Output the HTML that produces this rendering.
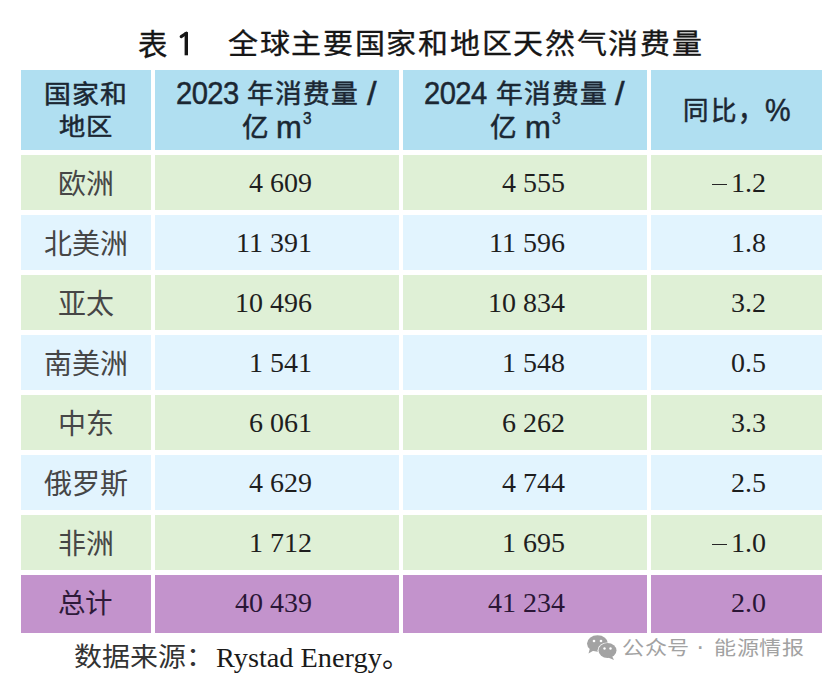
<!DOCTYPE html>
<html lang="zh-CN">
<head>
<meta charset="utf-8">
<style>
html,body{margin:0;padding:0;background:#fff;}
body{width:831px;height:680px;position:relative;overflow:hidden;font-family:"Liberation Sans",sans-serif;}
.c{position:absolute;}
.t{position:absolute;white-space:nowrap;line-height:1;transform-origin:0 0;}
.nm{position:absolute;white-space:nowrap;line-height:1;font-family:"Liberation Serif",serif;font-size:28px;color:#1e1e1e;}
.pp{color:#2a1636;}
</style>
</head>
<body>
<div class="c" style="left:21px;top:70px;width:130px;height:80px;background:#B0DFF1"></div>
<div class="c" style="left:155px;top:70px;width:244px;height:80px;background:#B0DFF1"></div>
<div class="c" style="left:403px;top:70px;width:244px;height:80px;background:#B0DFF1"></div>
<div class="c" style="left:651px;top:70px;width:171px;height:80px;background:#B0DFF1"></div>
<div class="c" style="left:21px;top:155px;width:130px;height:55px;background:#DFF0D6"></div>
<div class="c" style="left:155px;top:155px;width:244px;height:55px;background:#DFF0D6"></div>
<div class="c" style="left:403px;top:155px;width:244px;height:55px;background:#DFF0D6"></div>
<div class="c" style="left:651px;top:155px;width:171px;height:55px;background:#DFF0D6"></div>
<div class="c" style="left:21px;top:215px;width:130px;height:55px;background:#E2F4FE"></div>
<div class="c" style="left:155px;top:215px;width:244px;height:55px;background:#E2F4FE"></div>
<div class="c" style="left:403px;top:215px;width:244px;height:55px;background:#E2F4FE"></div>
<div class="c" style="left:651px;top:215px;width:171px;height:55px;background:#E2F4FE"></div>
<div class="c" style="left:21px;top:275px;width:130px;height:55px;background:#DFF0D6"></div>
<div class="c" style="left:155px;top:275px;width:244px;height:55px;background:#DFF0D6"></div>
<div class="c" style="left:403px;top:275px;width:244px;height:55px;background:#DFF0D6"></div>
<div class="c" style="left:651px;top:275px;width:171px;height:55px;background:#DFF0D6"></div>
<div class="c" style="left:21px;top:335px;width:130px;height:55px;background:#E2F4FE"></div>
<div class="c" style="left:155px;top:335px;width:244px;height:55px;background:#E2F4FE"></div>
<div class="c" style="left:403px;top:335px;width:244px;height:55px;background:#E2F4FE"></div>
<div class="c" style="left:651px;top:335px;width:171px;height:55px;background:#E2F4FE"></div>
<div class="c" style="left:21px;top:395px;width:130px;height:55px;background:#DFF0D6"></div>
<div class="c" style="left:155px;top:395px;width:244px;height:55px;background:#DFF0D6"></div>
<div class="c" style="left:403px;top:395px;width:244px;height:55px;background:#DFF0D6"></div>
<div class="c" style="left:651px;top:395px;width:171px;height:55px;background:#DFF0D6"></div>
<div class="c" style="left:21px;top:455px;width:130px;height:55px;background:#E2F4FE"></div>
<div class="c" style="left:155px;top:455px;width:244px;height:55px;background:#E2F4FE"></div>
<div class="c" style="left:403px;top:455px;width:244px;height:55px;background:#E2F4FE"></div>
<div class="c" style="left:651px;top:455px;width:171px;height:55px;background:#E2F4FE"></div>
<div class="c" style="left:21px;top:515px;width:130px;height:55px;background:#DFF0D6"></div>
<div class="c" style="left:155px;top:515px;width:244px;height:55px;background:#DFF0D6"></div>
<div class="c" style="left:403px;top:515px;width:244px;height:55px;background:#DFF0D6"></div>
<div class="c" style="left:651px;top:515px;width:171px;height:55px;background:#DFF0D6"></div>
<div class="c" style="left:21px;top:575px;width:130px;height:57.5px;background:#C393CC"></div>
<div class="c" style="left:155px;top:575px;width:244px;height:57.5px;background:#C393CC"></div>
<div class="c" style="left:403px;top:575px;width:244px;height:57.5px;background:#C393CC"></div>
<div class="c" style="left:651px;top:575px;width:171px;height:57.5px;background:#C393CC"></div>
<div class="c" style="left:712px;top:184px;width:15px;height:1.4px;background:#262626"></div>
<div class="nm" style="right:519px;top:169px">4 609</div>
<div class="nm" style="right:266px;top:169px">4 555</div>
<div class="nm" style="right:65px;top:169px">1.2</div>
<div class="nm" style="right:519px;top:229px">11 391</div>
<div class="nm" style="right:266px;top:229px">11 596</div>
<div class="nm" style="right:65px;top:229px">1.8</div>
<div class="nm" style="right:519px;top:289px">10 496</div>
<div class="nm" style="right:266px;top:289px">10 834</div>
<div class="nm" style="right:65px;top:289px">3.2</div>
<div class="nm" style="right:519px;top:349px">1 541</div>
<div class="nm" style="right:266px;top:349px">1 548</div>
<div class="nm" style="right:65px;top:349px">0.5</div>
<div class="nm" style="right:519px;top:409px">6 061</div>
<div class="nm" style="right:266px;top:409px">6 262</div>
<div class="nm" style="right:65px;top:409px">3.3</div>
<div class="nm" style="right:519px;top:469px">4 629</div>
<div class="nm" style="right:266px;top:469px">4 744</div>
<div class="nm" style="right:65px;top:469px">2.5</div>
<div class="c" style="left:712px;top:544px;width:15px;height:1.4px;background:#262626"></div>
<div class="nm" style="right:519px;top:529px">1 712</div>
<div class="nm" style="right:266px;top:529px">1 695</div>
<div class="nm" style="right:65px;top:529px">1.0</div>
<div class="nm pp" style="right:519px;top:589px">40 439</div>
<div class="nm pp" style="right:266px;top:589px">41 234</div>
<div class="nm pp" style="right:65px;top:589px">2.0</div>
<div class="t" style="left:138px;top:30px;transform:scale(0.979,1.0);font-family:'Liberation Sans',sans-serif;font-size:30px;color:#161616;letter-spacing:0px;-webkit-text-stroke:0.35px #161616;">表</div>
<div class="t" style="left:228px;top:31px;transform:scale(1.0,0.93);font-family:'Liberation Sans',sans-serif;font-size:30px;color:#161616;letter-spacing:1.7px;-webkit-text-stroke:0.35px #161616;">全球主要国家和地区天然气消费量</div>
<div class="t" style="left:44px;top:83px;transform:scale(0.997,0.919);font-family:'Liberation Sans',sans-serif;font-size:27px;color:#1b2733;letter-spacing:1.0px;-webkit-text-stroke:0.55px #1b2733;">国家和</div>
<div class="t" style="left:59px;top:115px;transform:scale(0.974,0.892);font-family:'Liberation Sans',sans-serif;font-size:27px;color:#1b2733;letter-spacing:1.0px;-webkit-text-stroke:0.55px #1b2733;">地区</div>
<div class="t" style="left:176px;top:78px;transform:scale(0.973,1.05);font-family:'Liberation Sans',sans-serif;font-size:30px;color:#1b2733;letter-spacing:-0.6px;-webkit-text-stroke:0.45px #1b2733;">2023</div>
<div class="t" style="left:247px;top:82px;transform:scale(0.991,0.963);font-family:'Liberation Sans',sans-serif;font-size:27px;color:#1b2733;letter-spacing:1.3px;-webkit-text-stroke:0.55px #1b2733;">年消费量</div>
<div class="t" style="left:367px;top:78px;transform:scale(1.15,1.082);font-family:'Liberation Sans',sans-serif;font-size:30px;color:#1b2733;letter-spacing:0px;-webkit-text-stroke:0.45px #1b2733;">/</div>
<div class="t" style="left:242px;top:115px;transform:scale(0.984,1.02);font-family:'Liberation Sans',sans-serif;font-size:27px;color:#1b2733;letter-spacing:0px;-webkit-text-stroke:0.55px #1b2733;">亿</div>
<div class="t" style="left:276px;top:113px;transform:scale(1.033,1.019);font-family:'Liberation Sans',sans-serif;font-size:30px;color:#1b2733;letter-spacing:0px;-webkit-text-stroke:0.45px #1b2733;">m</div>
<div class="t" style="left:303px;top:110px;transform:scale(0.9,1.0);font-family:'Liberation Sans',sans-serif;font-size:17px;color:#1b2733;letter-spacing:0px;-webkit-text-stroke:0.5px #1b2733;">3</div>
<div class="t" style="left:424px;top:78px;transform:scale(0.973,1.05);font-family:'Liberation Sans',sans-serif;font-size:30px;color:#1b2733;letter-spacing:-0.6px;-webkit-text-stroke:0.45px #1b2733;">2024</div>
<div class="t" style="left:496px;top:82px;transform:scale(0.991,0.963);font-family:'Liberation Sans',sans-serif;font-size:27px;color:#1b2733;letter-spacing:1.3px;-webkit-text-stroke:0.55px #1b2733;">年消费量</div>
<div class="t" style="left:615px;top:78px;transform:scale(1.15,1.082);font-family:'Liberation Sans',sans-serif;font-size:30px;color:#1b2733;letter-spacing:0px;-webkit-text-stroke:0.45px #1b2733;">/</div>
<div class="t" style="left:490px;top:115px;transform:scale(0.984,1.02);font-family:'Liberation Sans',sans-serif;font-size:27px;color:#1b2733;letter-spacing:0px;-webkit-text-stroke:0.55px #1b2733;">亿</div>
<div class="t" style="left:525px;top:113px;transform:scale(1.033,1.019);font-family:'Liberation Sans',sans-serif;font-size:30px;color:#1b2733;letter-spacing:0px;-webkit-text-stroke:0.45px #1b2733;">m</div>
<div class="t" style="left:552px;top:110px;transform:scale(0.9,1.0);font-family:'Liberation Sans',sans-serif;font-size:17px;color:#1b2733;letter-spacing:0px;-webkit-text-stroke:0.5px #1b2733;">3</div>
<div class="t" style="left:683px;top:99px;transform:scale(0.943,0.958);font-family:'Liberation Sans',sans-serif;font-size:27px;color:#1b2733;letter-spacing:3px;-webkit-text-stroke:0.55px #1b2733;">同比</div>
<div class="t" style="left:738px;top:95px;transform:scale(0.96,1.15);font-family:'Liberation Sans',sans-serif;font-size:27px;color:#1b2733;letter-spacing:0px;-webkit-text-stroke:0.55px #1b2733;">，</div>
<div class="t" style="left:765px;top:95px;transform:scale(0.992,1.065);font-family:'Liberation Sans',sans-serif;font-size:29px;color:#1b2733;letter-spacing:0px;-webkit-text-stroke:0.45px #1b2733;">%</div>
<div class="t" style="left:74px;top:645px;transform:scale(1.037,0.968);font-family:'Liberation Serif',serif;font-size:27px;color:#333333;letter-spacing:0px;">数据来源：</div>
<div class="t" style="left:216px;top:644px;transform:scale(1.011,0.992);font-family:'Liberation Serif',serif;font-size:28px;color:#1a1a1a;letter-spacing:0px;">Rystad Energy。</div>
<div class="t" style="left:622px;top:639px;transform:scale(1.006,0.89);font-family:'Liberation Sans',sans-serif;font-size:22px;color:#a2a2a2;letter-spacing:0.5px;">公众号</div>
<div class="t" style="left:696px;top:634px;transform:scale(1.15,1.15);font-family:'Liberation Sans',sans-serif;font-size:22px;color:#a2a2a2;letter-spacing:0px;">·</div>
<div class="t" style="left:714px;top:639px;transform:scale(1.003,0.9);font-family:'Liberation Sans',sans-serif;font-size:22px;color:#a2a2a2;letter-spacing:0.5px;">能源情报</div>
<div class="t" style="left:58px;top:171px;font-family:'Liberation Serif',serif;font-size:28px;color:#464646;letter-spacing:0px;">欧洲</div>
<div class="t" style="left:44px;top:231px;font-family:'Liberation Serif',serif;font-size:28px;color:#464646;letter-spacing:0px;">北美洲</div>
<div class="t" style="left:58px;top:291px;font-family:'Liberation Serif',serif;font-size:28px;color:#464646;letter-spacing:0px;">亚太</div>
<div class="t" style="left:44px;top:351px;font-family:'Liberation Serif',serif;font-size:28px;color:#464646;letter-spacing:0px;">南美洲</div>
<div class="t" style="left:58px;top:411px;font-family:'Liberation Serif',serif;font-size:28px;color:#464646;letter-spacing:0px;">中东</div>
<div class="t" style="left:44px;top:471px;font-family:'Liberation Serif',serif;font-size:28px;color:#464646;letter-spacing:0px;">俄罗斯</div>
<div class="t" style="left:58px;top:531px;font-family:'Liberation Serif',serif;font-size:28px;color:#464646;letter-spacing:0px;">非洲</div>
<div class="t" style="left:58px;top:590px;font-family:'Liberation Serif',serif;font-size:27.5px;color:#2e1a3a;letter-spacing:0px;">总计</div>
<svg style="position:absolute;left:170px;top:25px" width="30" height="36" viewBox="170 25 30 36"><rect x="184.6" y="32.2" width="3.4" height="23.1" fill="#161616"/><path d="M181.2 36.6 L186.3 33.2" stroke="#161616" stroke-width="3.1" stroke-linecap="round" fill="none"/></svg>
<svg style="position:absolute;left:584px;top:632px" width="36" height="30" viewBox="0 0 36 30">
<g fill="#a3a3a3">
<ellipse cx="13.5" cy="11.5" rx="10.5" ry="8.3"/>
<path d="M6 16 L4.5 21.5 L10.5 18 Z"/>
</g>
<ellipse cx="13.5" cy="10" rx="1.3" ry="1.3" fill="#fff" transform="translate(-3.5,-1)"/>
<ellipse cx="13.5" cy="10" rx="1.3" ry="1.3" fill="#fff" transform="translate(3.5,-1)"/>
<g>
<ellipse cx="23.5" cy="18.5" rx="10" ry="8" fill="#fff"/>
<ellipse cx="23.5" cy="18.5" rx="9" ry="7.5" fill="#a3a3a3"/>
<path d="M28 24 L30 28 L24 25.5 Z" fill="#a3a3a3"/>
<circle cx="20.5" cy="16.5" r="1.2" fill="#fff"/>
<circle cx="26.5" cy="16.5" r="1.2" fill="#fff"/>
</g>
</svg>
</body>
</html>
